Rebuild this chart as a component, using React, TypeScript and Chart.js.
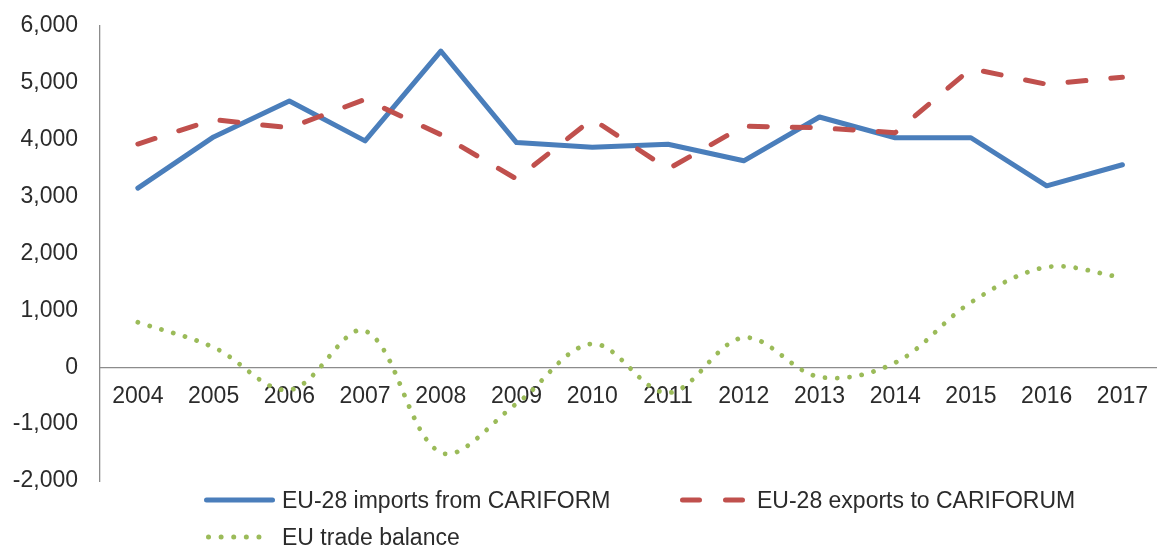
import React, { useEffect, useRef } from "react";
import { Chart, registerables } from "chart.js";

Chart.register(...registerables);

const years = ["2004", "2005", "2006", "2007", "2008", "2009", "2010", "2011", "2012", "2013", "2014", "2015", "2016", "2017"];
const importsFromCariforum = [3150, 4050, 4680, 3980, 5560, 3950, 3870, 3920, 3630, 4400, 4035, 4035, 3190, 3560];
const exportsToCariforum = [3925, 4355, 4210, 4710, 4090, 3310, 4365, 3485, 4240, 4210, 4125, 5250, 4975, 5100];
const tradeBalance = [790, 350, -400, 640, -1500, -640, 410, -450, 520, -170, 80, 1140, 1760, 1580];
const seriesLabels = ["EU-28 imports from CARIFORM", "EU-28 exports to CARIFORUM", "EU trade balance"];
const yMin = -2000;
const yMax = 6000;
const yStep = 1000;

const BLUE = "#4A7EBB";
const RED = "#C0504D";
const GREEN = "#9BBB59";
const TEXT = "#2b2b2b";
const AXIS = "#8c8c8c";
const FONT = "'Liberation Sans', Arial, sans-serif";

export default function App() {
  const canvasRef = useRef<HTMLCanvasElement | null>(null);

  useEffect(() => {
    const canvas = canvasRef.current;
    if (!canvas) return;
    const chart = new Chart(canvas, {
      type: "line",
      data: {
        labels: years,
        datasets: [
          {
            label: seriesLabels[0],
            data: importsFromCariforum,
            borderColor: BLUE,
            backgroundColor: BLUE,
            borderWidth: 5,
            pointRadius: 0,
            tension: 0,
            borderCapStyle: "round",
            borderJoinStyle: "round",
            order: 2,
          },
          {
            label: seriesLabels[1],
            data: exportsToCariforum,
            borderColor: RED,
            backgroundColor: RED,
            borderWidth: 5,
            borderDash: [18, 25],
            pointRadius: 0,
            tension: 0,
            borderCapStyle: "round",
            borderJoinStyle: "round",
            order: 1,
          },
          {
            label: seriesLabels[2],
            data: tradeBalance,
            borderColor: GREEN,
            backgroundColor: GREEN,
            borderWidth: 4.8,
            borderDash: [0.01, 12.3],
            pointRadius: 0,
            tension: 0.35,
            borderCapStyle: "round",
            borderJoinStyle: "round",
            order: 0,
          },
        ],
      },
      options: {
        responsive: false,
        animation: false,
        events: [],
        layout: { padding: { left: 12, top: 26, bottom: 66, right: 0 } },
        plugins: {
          legend: { display: false },
          tooltip: { enabled: false },
          title: { display: false },
        },
        scales: {
          x: {
            type: "category",
            offset: true,
            position: { y: 0 } as any,
            grid: { display: false, drawTicks: false },
            border: { display: true, color: AXIS, width: 1.3 },
            ticks: {
              padding: 16,
              color: TEXT,
              font: { family: FONT, size: 23 },
              maxRotation: 0,
              autoSkip: false,
            },
          },
          y: {
            type: "linear",
            min: yMin,
            max: yMax,
            afterFit: (scale: any) => {
              scale.width = 88;
              scale.paddingTop = 10;
              scale.paddingBottom = 10;
            },
            grid: { display: false, drawTicks: false },
            border: { display: true, color: AXIS, width: 1.3 },
            ticks: {
              stepSize: yStep,
              padding: 22,
              color: TEXT,
              font: { family: FONT, size: 23 },
              callback: (v: any) => Number(v).toLocaleString("en-US"),
            },
          },
        },
      },
    });
    return () => chart.destroy();
  }, []);

  const legendItems = [
    { label: seriesLabels[0], color: BLUE, kind: "solid", left: 204, top: 500, textLeft: 282 },
    { label: seriesLabels[1], color: RED, kind: "dash", left: 680, top: 500, textLeft: 757 },
    { label: seriesLabels[2], color: GREEN, kind: "dot", left: 204, top: 537, textLeft: 282 },
  ];

  return (
    <div style={{ position: "fixed", left: 0, top: 0, width: 1157, height: 547, overflow: "hidden", background: "#fff" }}>
      <canvas ref={canvasRef} width={1164} height={547} style={{ width: 1164, height: 547, display: "block" }} />
      {legendItems.map((it) => (
        <React.Fragment key={it.label}>
          <svg
            width={74}
            height={10}
            style={{ position: "absolute", left: it.left, top: it.top - 5 }}
          >
            {it.kind === "solid" && (
              <line x1={2.5} y1={5} x2={68.5} y2={5} stroke={it.color} strokeWidth={5} strokeLinecap="round" />
            )}
            {it.kind === "dash" && (
              <line x1={2.5} y1={5} x2={65.5} y2={5} stroke={it.color} strokeWidth={5} strokeLinecap="round" strokeDasharray="17 26" />
            )}
            {it.kind === "dot" && (
              <line x1={4.5} y1={5} x2={66} y2={5} stroke={it.color} strokeWidth={5} strokeLinecap="round" strokeDasharray="0.01 12.6" />
            )}
          </svg>
          <div
            style={{
              position: "absolute",
              left: it.textLeft,
              top: it.top - 15,
              height: 30,
              lineHeight: "30px",
              fontFamily: FONT,
              fontSize: 23,
              color: TEXT,
              whiteSpace: "nowrap",
            }}
          >
            {it.label}
          </div>
        </React.Fragment>
      ))}
    </div>
  );
}
